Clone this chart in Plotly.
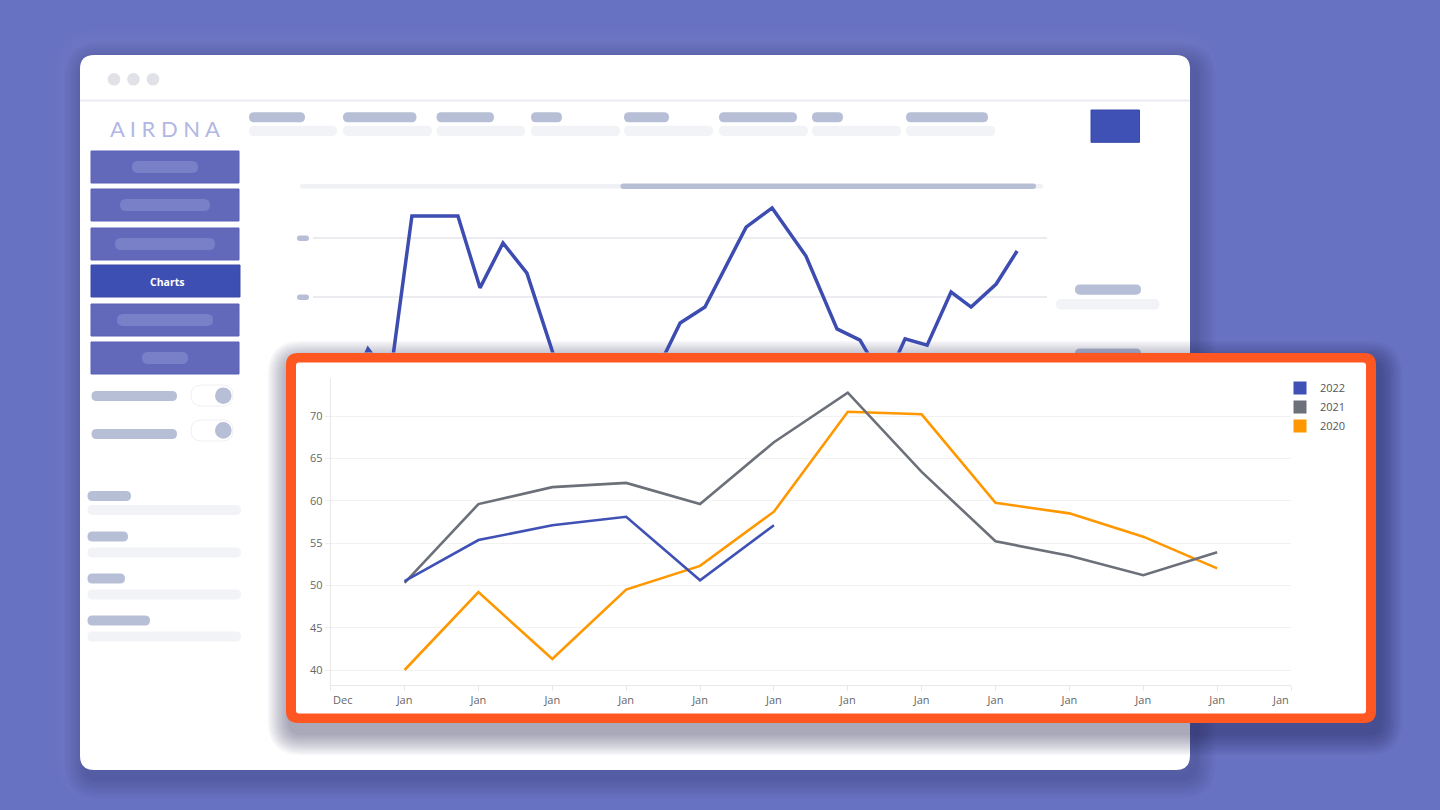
import plotly.graph_objects as go

# ---------------- data ----------------
months = ["Jan", "Feb", "Mar", "Apr", "May", "Jun", "Jul", "Aug", "Sep", "Oct", "Nov", "Dec"]
x_tick_labels = ["Dec"] + ["Jan"] * 13
y_tick_values = [40, 45, 50, 55, 60, 65, 70]

values_2022 = [50.5, 55.35, 57.1, 58.1, 50.6, 57.1]
values_2021 = [50.3, 59.6, 61.6, 62.1, 59.6, 66.9, 72.75, 63.4, 55.2, 53.5, 51.2, 53.9]
values_2020 = [40.0, 49.2, 41.3, 49.5, 52.3, 58.7, 70.5, 70.2, 59.75, 58.5, 55.75, 52.0]

series_names = ["2022", "2021", "2020"]
series_colors = ["#3f51b5", "#6b7079", "#ff9800"]

# decorative background dashboard line (partly hidden behind the inset)
bg_week = [1.39, 2.39, 3.35, 4.30, 6.30, 7.26, 8.26, 9.30, 10.74, 12.04, 13.35, 14.43,
           15.96, 17.04, 18.83, 19.96, 21.43, 22.78, 23.78, 24.87, 25.74, 26.70,
           27.74, 28.61, 29.70, 30.61]
bg_value = [25.1, 42.4, 32.5, 87.5, 87.5, 63.1, 78.3, 68.1, 33.6, 25.1, 18.3, 26.8,
            51.2, 56.6, 83.7, 90.2, 73.9, 49.2, 45.4, 30.8, 45.8, 43.7,
            61.7, 56.6, 64.4, 75.6]
bg_grid_values = [60, 80]

# ---------------- helpers (pixel -> paper) ----------------
W, H = 1440, 810


def px(x):
    return x / W


def py(y):
    return 1 - y / H


def rr(x0, y0, x1, y1, r, fill, line_color=None, line_width=0):
    r = min(r, (x1 - x0) / 2, (y1 - y0) / 2)
    P = lambda a, b: f"{px(a):.6f},{py(b):.6f}"
    path = (f"M {P(x0 + r, y0)} L {P(x1 - r, y0)} Q {P(x1, y0)} {P(x1, y0 + r)} "
            f"L {P(x1, y1 - r)} Q {P(x1, y1)} {P(x1 - r, y1)} "
            f"L {P(x0 + r, y1)} Q {P(x0, y1)} {P(x0, y1 - r)} "
            f"L {P(x0, y0 + r)} Q {P(x0, y0)} {P(x0 + r, y0)} Z")
    return dict(type="path", xref="paper", yref="paper", path=path, fillcolor=fill,
                line=dict(color=line_color or "rgba(0,0,0,0)", width=line_width),
                layer="below")


def pill(x0, y0, x1, y1, fill):
    return rr(x0, y0, x1, y1, (y1 - y0) / 2, fill)


def circ(cx, cy, r, fill, line_color=None, line_width=0):
    return dict(type="circle", xref="paper", yref="paper",
                x0=px(cx - r), x1=px(cx + r), y0=py(cy + r), y1=py(cy - r),
                fillcolor=fill, line=dict(color=line_color or "rgba(0,0,0,0)", width=line_width),
                layer="below")


PILL = "#b7bfd6"
LIGHT = "#f2f3f6"
shapes = []

# soft light glow around the window
for i in range(1, 6):
    e = i * 5
    shapes.append(rr(80 - e, 55 - e, 1190 + e, 770 + e, 14 + e, "rgba(255,255,255,0.012)"))
# window shadow
for i in range(1, 9):
    e = i * 2.5
    shapes.append(rr(80 + 5 - e, 55 + 8 - e, 1190 + 5 + e, 770 + 8 + e, 14 + e, "rgba(25,30,90,0.035)"))
# window
shapes.append(rr(80, 55, 1190, 770, 14, "#ffffff"))
shapes.append(dict(type="rect", xref="paper", yref="paper", x0=px(80), x1=px(1190),
                   y0=py(101.5), y1=py(99.5), fillcolor="#ebebf2", line=dict(width=0), layer="below"))
for cx in (114, 133.5, 153):
    shapes.append(circ(cx, 79.3, 6.3, "#e1e1e8"))

# sidebar buttons
buttons = [(151, 183, 132, 198), (189, 221, 120, 210), (228, 260, 115, 215),
           (265, 297, None, None), (304, 336, 117, 213), (342, 374, 142, 188)]
for (y0, y1, p0, p1) in buttons:
    if p0 is None:
        shapes.append(dict(type="rect", xref="paper", yref="paper", x0=px(91), x1=px(240),
                           y0=py(y1), y1=py(y0), fillcolor="#3e4fb3",
                           line=dict(color="#3a4aa8", width=1), layer="below"))
    else:
        shapes.append(dict(type="rect", xref="paper", yref="paper", x0=px(91), x1=px(239),
                           y0=py(y1), y1=py(y0), fillcolor="#6268ba",
                           line=dict(color="#5a61b4", width=1), layer="below"))
        shapes.append(pill(p0, (y0 + y1) / 2 - 6, p1, (y0 + y1) / 2 + 6, "#7a80c8"))

# toggles
for (ly0, ly1, ty0, ty1, ky) in [(391, 401, 385, 406, 395.7), (429, 439, 420, 441, 430.4)]:
    shapes.append(pill(91.5, ly0, 177, ly1, PILL))
    shapes.append(rr(191, ty0, 233, ty1, (ty1 - ty0) / 2, "#ffffff", "#f0f0f4", 1))
    shapes.append(circ(223.3, ky, 8.3, PILL))

# sidebar list
for (lw, ly0, ly1, my0, my1) in [(131, 491, 501, 505, 515), (128, 531.5, 541.5, 547.5, 557.5),
                                  (125, 573.5, 583.5, 589.5, 599.5), (150, 615.5, 625.5, 631.5, 641.5)]:
    shapes.append(pill(87.5, ly0, lw, ly1, PILL))
    shapes.append(pill(87.5, my0, 241, my1, LIGHT))

# top header pills
for (a0, a1, b1) in [(249, 305, 337), (343, 416.5, 432), (436.5, 494, 525), (531, 562, 620),
                     (624, 669, 713), (719, 797, 808), (812, 843, 901), (906, 988, 995)]:
    shapes.append(pill(a0, 112.3, a1, 122.3, PILL))
    shapes.append(pill(a0, 125.8, b1, 136, LIGHT))

# blue button top-right
shapes.append(dict(type="rect", xref="paper", yref="paper", x0=px(1091), x1=px(1139.5),
                   y0=py(142.3), y1=py(110), fillcolor="#3f51b5",
                   line=dict(color="#3848ab", width=1), layer="below"))

# slider
shapes.append(pill(300, 184, 1043, 188.5, "#f0f1f5"))
shapes.append(pill(620.5, 183.5, 1036, 189, PILL))
# small y tick pills of background chart
shapes.append(pill(297, 235.5, 309, 241, PILL))
shapes.append(pill(297, 294.5, 309, 300, PILL))
# right side pills
shapes.append(pill(1075, 284.5, 1141, 294.7, PILL))
shapes.append(pill(1056, 299, 1159.5, 309.5, LIGHT))
shapes.append(pill(1075, 348.5, 1141, 358.5, PILL))

# inset shadow
for i in range(1, 11):
    e = i * 2.2
    shapes.append(rr(286 + 4 - e, 353 + 10 - e, 1376 + 4 + e, 723 + 10 + e, 12 + e, "rgba(20,22,60,0.045)"))
# inset frame
shapes.append(rr(286, 353, 1376, 723, 12, "#ff5722"))
shapes.append(rr(296, 362.5, 1366, 713.5, 3, "#ffffff"))

# ---------------- figure ----------------
fig = go.Figure()

# decorative background line
fig.add_trace(go.Scatter(x=bg_week, y=bg_value, xaxis="x2", yaxis="y2", mode="lines",
                         line=dict(color="#3d4cb0", width=3.5), showlegend=False, hoverinfo="skip"))

all_values = [values_2022, values_2021, values_2020]
for name, color, vals in reversed(list(zip(series_names, series_colors, all_values))):
    fig.add_trace(go.Scatter(x=[months.index(m) + 1 for m in months[:len(vals)]], y=vals,
                             mode="lines", line=dict(color=color, width=2.6),
                             showlegend=False, name=name))
for name, color in zip(series_names, series_colors):
    fig.add_trace(go.Scatter(x=[None], y=[None], mode="markers", name=name,
                             marker=dict(symbol="square", size=13, color=color)))

FONT = "Open Sans, Arial, sans-serif"
annotations = [
    dict(text="A I R D N A", x=px(165), y=py(128.5), xref="paper", yref="paper", showarrow=False,
         xanchor="center", yanchor="middle",
         font=dict(family="Lato, sans-serif", size=22, color="#b1b7e3", weight=400)),
    dict(text="<b>Charts</b>", x=px(166.5), y=py(281.5), xref="paper", yref="paper", showarrow=False,
         xanchor="center", yanchor="middle",
         font=dict(family=FONT, size=10.5, color="#ffffff")),
    dict(text=x_tick_labels[0], x=0, xref="x", xanchor="left", y=py(699.5), yref="paper",
         yanchor="middle", showarrow=False, font=dict(family=FONT, size=11, color="#666666")),
    dict(text=x_tick_labels[-1], x=len(x_tick_labels) - 1, xref="x", xanchor="right", y=py(699.5),
         yref="paper", yanchor="middle", showarrow=False,
         font=dict(family=FONT, size=11, color="#666666")),
]

fig.update_layout(
    width=W, height=H, margin=dict(l=0, r=0, t=0, b=0),
    paper_bgcolor="#6872c2", plot_bgcolor="rgba(0,0,0,0)",
    font=dict(family=FONT, size=11, color="#666666"),
    shapes=shapes, annotations=annotations,
    showlegend=True,
    legend=dict(x=px(1280), y=py(373.5), xanchor="left", yanchor="top",
                bgcolor="rgba(0,0,0,0)", font=dict(family=FONT, size=11, color="#555555"),
                itemclick=False, itemdoubleclick=False, tracegroupgap=0),
    xaxis=dict(domain=[px(330.7), px(1291)], range=[0, len(x_tick_labels) - 1],
               tickmode="array", tickvals=list(range(len(x_tick_labels))),
               ticktext=[""] + x_tick_labels[1:-1] + [""],
               showgrid=False, zeroline=False, showline=True, linecolor="#e8e8e8", linewidth=1,
               ticks="outside", ticklen=5, tickcolor="#e8e8e8",
               tickfont=dict(family=FONT, size=11, color="#666666"), fixedrange=True),
    yaxis=dict(domain=[py(685), py(378)], range=[38.23, 74.49],
               tickmode="array", tickvals=y_tick_values,
               showgrid=True, gridcolor="#f2f2f2", gridwidth=1, zeroline=False,
               showline=True, linecolor="#e8e8e8", linewidth=1,
               ticks="outside", ticklen=5, tickcolor="#eeeeee",
               tickfont=dict(family=FONT, size=11, color="#666666"), fixedrange=True),
    xaxis2=dict(domain=[px(313), px(1047)], range=[0, 31.91], anchor="y2",
                showgrid=False, zeroline=False, showline=False, showticklabels=False, ticks="",
                fixedrange=True),
    yaxis2=dict(domain=[py(352.5), py(160)], range=[41.19, 106.44], anchor="x2",
                tickmode="array", tickvals=bg_grid_values, showgrid=True, gridcolor="#ececf0",
                gridwidth=2, zeroline=False, showline=False, showticklabels=False, ticks="",
                fixedrange=True),
)

fig.write_html("out.html", config={"displayModeBar": False},
               post_script="document.body.style.margin='0';document.body.style.overflow='hidden';")
